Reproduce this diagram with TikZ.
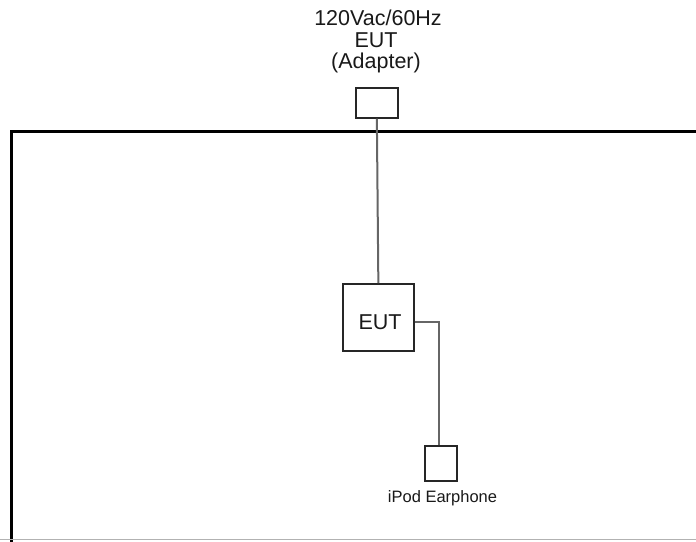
\documentclass[tikz,border=0pt]{standalone}
\usepackage{fontspec}
\setmainfont{Liberation Sans}
\begin{document}
\begin{tikzpicture}[x=1pt,y=-1pt,
  box/.style={draw=black!85,line width=1.7pt,inner sep=0pt,anchor=north west},
  wire/.style={draw=black!60,line width=2pt},
  frame/.style={draw=black,line width=3.5pt},
  toplbl/.style={font=\fontsize{21.5}{22}\selectfont,inner sep=0pt,anchor=base,text=black!90},
  lbl/.style={font=\fontsize{16.5}{18}\selectfont,inner sep=0pt,anchor=base,text=black!90}]
\useasboundingbox (0,0) rectangle (696,541);
% frame
\coordinate (fbl) at (11.5,545);
\coordinate (ftl) at (11.5,131.5);
\coordinate (ftr) at (700,131.5);
\draw[frame] (fbl) -- (ftl) -- (ftr);
\coordinate (bl) at (0,539.5);
\coordinate (br) at (696,539.5);
\draw[draw=black!30,line width=0.8pt] (bl) -- (br);
% adapter
\node[box,minimum width=42,minimum height=30] (adapter) at (355,87) {};
\node[toplbl] (adlbl1) at (378,25) {120Vac/60Hz};
\node[toplbl] (adlbl2) at (376,47) {EUT};
\node[toplbl] (adlbl3) at (376,68) {(Adapter)};
% EUT
\node[box,minimum width=71,minimum height=67] (eut) at (342,283) {};
\node[toplbl] (eutlbl) at (380,329) {EUT};
% earphone
\node[box,minimum width=32,minimum height=35] (ear) at (424,445) {};
\node[lbl] (earlbl) at (442.5,502) {iPod Earphone};
% wires
\draw[wire] (adapter.south) -- (eut.north);
\coordinate (bend) at (439,322);
\draw[wire] (eut.east |- bend) -- (bend) -- (bend |- ear.north);
\end{tikzpicture}
\end{document}
